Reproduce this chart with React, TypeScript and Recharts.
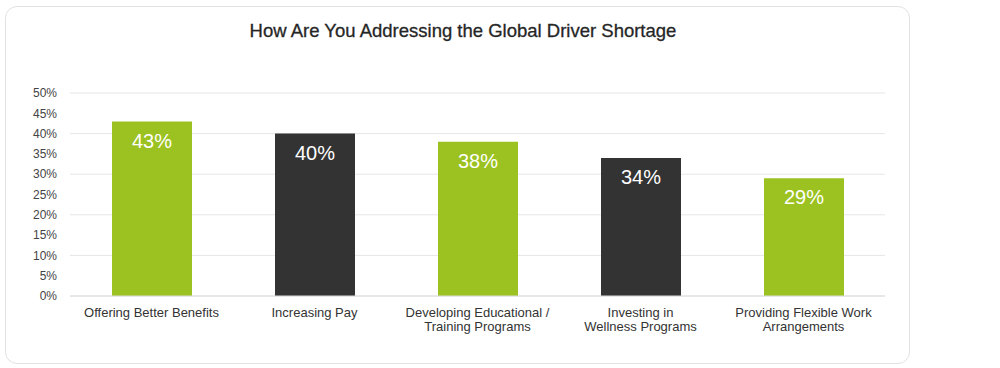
import { BarChart, Bar, XAxis, YAxis, CartesianGrid, Cell, LabelList } from 'recharts';

const categories = [
  'Offering Better Benefits',
  'Increasing Pay',
  'Developing Educational /\nTraining Programs',
  'Investing in\nWellness Programs',
  'Providing Flexible Work\nArrangements',
];
const shares = [43, 40, 38, 34, 29];
const yTicks = [0, 5, 10, 15, 20, 25, 30, 35, 40, 45, 50];

const GREEN = '#9bc220';
const DARK = '#333333';
const FONT = '"Liberation Sans", Arial, sans-serif';

const data = categories.map((name, i) => ({ name, value: shares[i] }));

function CategoryTick({ x, y, payload }: any) {
  const lines = String(payload.value).split('\n');
  return (
    <text x={x} y={y} textAnchor="middle" fill="#333" fontSize={13} fontFamily={FONT}>
      {lines.map((line, i) => (
        <tspan key={i} x={x} dy={i === 0 ? 13 : 13.5}>
          {line}
        </tspan>
      ))}
    </text>
  );
}

export default function App() {
  return (
    <div style={{ position: 'absolute', left: 0, top: 0, width: 1000, height: 368, background: '#fff' }}>
      <div
        style={{
          position: 'absolute',
          left: 5,
          top: 6,
          width: 903,
          height: 356,
          border: '1px solid #e2e2e2',
          borderRadius: 12,
        }}
      />
      <div
        style={{
          position: 'absolute',
          left: 5,
          top: 20,
          width: 916,
          textAlign: 'center',
          fontFamily: FONT,
          fontSize: 18.5,
          color: '#262626',
          WebkitTextStroke: '0.3px #262626',
        }}
      >
        How Are You Addressing the Global Driver Shortage
      </div>
      <div style={{ position: 'absolute', left: 0, top: 0 }}>
        <BarChart
          width={1000}
          height={368}
          data={data}
          margin={{ top: 93, right: 115, bottom: 42, left: 10 }}
          barSize={80}
        >
          <CartesianGrid vertical={false} stroke="#e6e6e6" />
          <XAxis
            dataKey="name"
            axisLine={{ stroke: '#dcdcdc' }}
            tickLine={false}
            height={30}
            interval={0}
            tick={<CategoryTick />}
          />
          <YAxis
            width={60}
            domain={[0, 50]}
            ticks={yTicks}
            axisLine={false}
            tickLine={false}
            tickSize={0}
            tickMargin={13}
            tickFormatter={(v) => `${v}%`}
            tick={{ fill: '#444', fontSize: 12, fontFamily: FONT }}
          />
          <Bar dataKey="value" isAnimationActive={false}>
            {data.map((d, i) => (
              <Cell key={d.name} fill={i % 2 === 0 ? GREEN : DARK} />
            ))}
            <LabelList
              dataKey="value"
              position="insideTop"
              offset={12}
              fill="#fff"
              fontSize={20}
              fontFamily={FONT}
              formatter={(v: any) => `${v}%`}
            />
          </Bar>
        </BarChart>
      </div>
    </div>
  );
}
